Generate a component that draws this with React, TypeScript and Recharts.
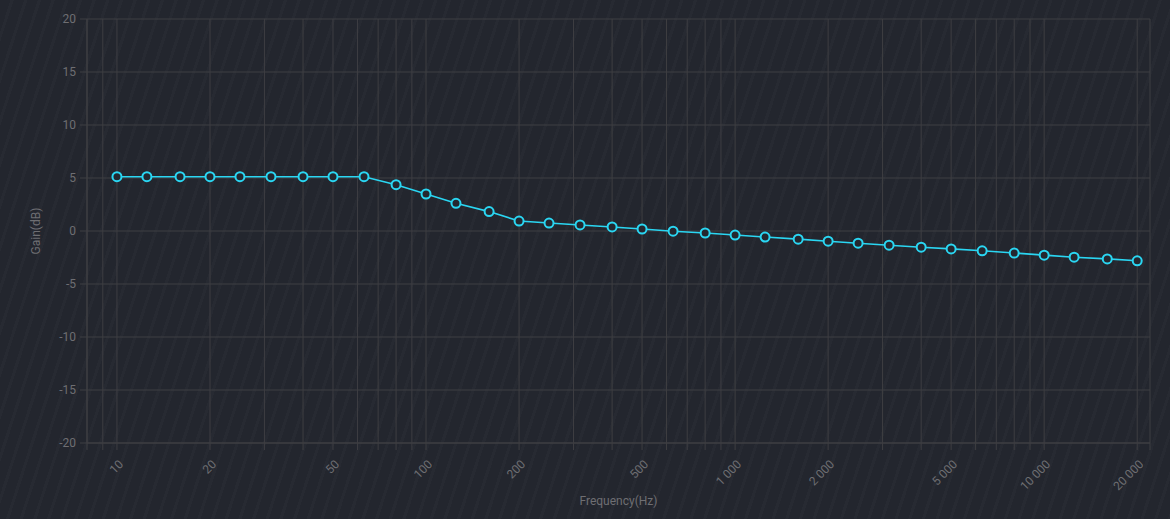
import React from "react";
import { LineChart, Line, XAxis, YAxis, CartesianGrid } from "recharts";

const frequencies = [10, 12.5, 16, 20, 25, 31.5, 40, 50, 63, 80, 100, 125, 160, 200, 250, 315, 400, 500, 630, 800, 1000, 1250, 1600, 2000, 2500, 3150, 4000, 5000, 6300, 8000, 10000, 12500, 16000, 20000];
const gains = [5.12, 5.12, 5.12, 5.12, 5.12, 5.12, 5.12, 5.12, 5.12, 4.37, 3.49, 2.61, 1.83, 0.94, 0.75, 0.57, 0.38, 0.19, -0.02, -0.19, -0.38, -0.57, -0.77, -0.96, -1.15, -1.34, -1.53, -1.69, -1.87, -2.08, -2.28, -2.47, -2.63, -2.81];
const xTicks = [8, 9, 10, 20, 30, 40, 50, 60, 70, 80, 90, 100, 200, 300, 400, 500, 600, 700, 800, 900, 1000, 2000, 3000, 4000, 5000, 6000, 7000, 8000, 9000, 10000, 20000, 22000];
const xLabels: Record<number, string> = { 10: "10", 20: "20", 50: "50", 100: "100", 200: "200", 500: "500", 1000: "1 000", 2000: "2 000", 5000: "5 000", 10000: "10 000", 20000: "20 000" };
const yTicks = [-20, -15, -10, -5, 0, 5, 10, 15, 20];

const data = frequencies.map((f, i) => ({ f, g: gains[i] }));

const GRID = "#3e3e42";
const TEXT = "#6e6e72";
const CYAN = "#2ad6f2";

const XTick = (props: any) => {
  const { x, y, payload } = props;
  const label = xLabels[payload.value];
  if (!label) return null;
  return (
    <g transform={`translate(${x + 4},${y + 10})`}>
      <text x={0} y={0} dy="0.35em" textAnchor="end" transform="rotate(-45)" fill={TEXT} fontSize={12} fontFamily="Roboto, sans-serif">
        {label}
      </text>
    </g>
  );
};

export default function App() {
  return (
    <div
      style={{
        position: "absolute",
        left: 0,
        top: 0,
        width: 1170,
        height: 519,
        background: "repeating-linear-gradient(108deg, #23262e 0px, #23262e 10px, #272a32 10px, #272a32 13px)",
        fontFamily: "Roboto, sans-serif",
      }}
    >
      <LineChart width={1170} height={519} data={data} margin={{ top: 19, right: 20, left: 0, bottom: 16 }}>
        <CartesianGrid stroke={GRID} strokeWidth={1} />
        <XAxis
          dataKey="f"
          type="number"
          scale="log"
          domain={[8, 22000]}
          ticks={xTicks}
          interval={0}
          allowDataOverflow
          height={60}
          stroke={GRID}
          tickLine={{ stroke: GRID }}
          tickSize={7}
          tick={<XTick />}
          label={{ value: "Frequency(Hz)", position: "insideBottom", offset: -2, fill: TEXT, fontSize: 12 }}
        />
        <YAxis
          type="number"
          domain={[-20, 20]}
          ticks={yTicks}
          interval={0}
          width={87}
          stroke={GRID}
          tickLine={{ stroke: GRID }}
          tickSize={7}
          tickMargin={4}
          tick={{ fill: TEXT, fontSize: 12 }}
          label={{ value: "Gain(dB)", angle: -90, position: "insideLeft", offset: 36, fill: TEXT, fontSize: 12, style: { textAnchor: "middle" } }}
        />
        <Line
          dataKey="g"
          type="linear"
          stroke={CYAN}
          strokeWidth={1.6}
          dot={{ r: 4.5, stroke: CYAN, strokeWidth: 2, fill: "#24272f" }}
          isAnimationActive={false}
        />
      </LineChart>
    </div>
  );
}
